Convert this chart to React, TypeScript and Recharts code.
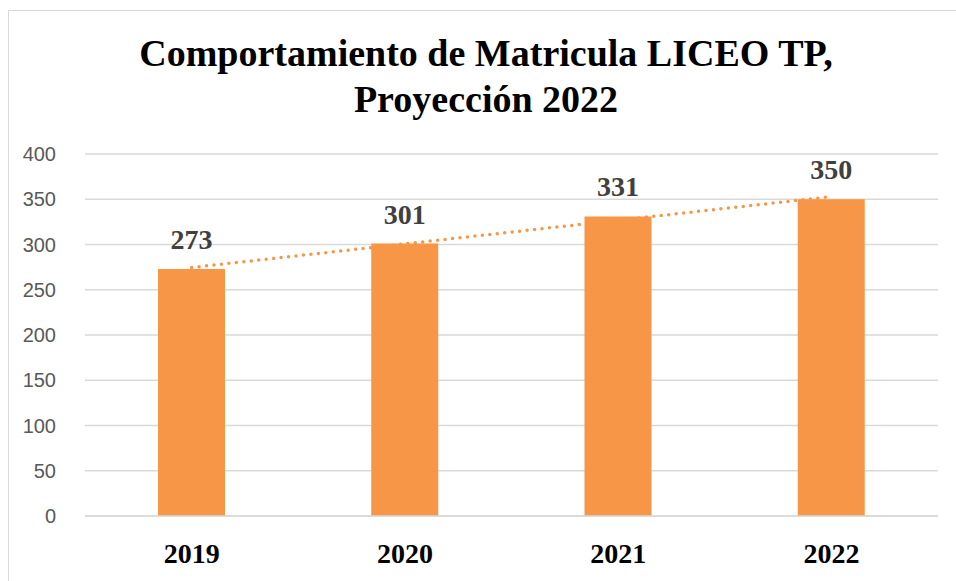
import React from "react";
import {
  ComposedChart,
  Bar,
  Line,
  XAxis,
  YAxis,
  CartesianGrid,
  LabelList,
} from "recharts";

const years = ["2019", "2020", "2021", "2022"];
const matricula = [273, 301, 331, 350];
// dotted linear trend
const tendencia = [274.6, 300.7, 326.8, 352.9];
const yTicks = [0, 50, 100, 150, 200, 250, 300, 350, 400];

const ORANGE = "#F79646";
const SERIF = "'Liberation Serif', 'Times New Roman', serif";

const data = years.map((year, i) => ({
  year,
  value: matricula[i],
  trend: tendencia[i],
}));

export default function App() {
  return (
    <div
      style={{
        position: "absolute",
        left: 0,
        top: 0,
        width: 956,
        height: 581,
        background: "#fff",
        overflow: "hidden",
      }}
    >
      <div
        style={{
          position: "absolute",
          left: 8,
          top: 10,
          width: 980,
          height: 600,
          border: "1px solid #d9d9d9",
        }}
      />
      <div
        style={{
          position: "absolute",
          left: 0,
          top: 30,
          width: 972,
          textAlign: "center",
          fontFamily: SERIF,
          fontWeight: "bold",
          fontSize: 38,
          lineHeight: "46px",
          color: "#000",
        }}
      >
        Comportamiento de Matricula LICEO TP,
        <br />
        Proyección 2022
      </div>
      <ComposedChart
        width={956}
        height={581}
        data={data}
        margin={{ top: 154, right: 18, bottom: 0, left: 0 }}
        style={{ position: "absolute", left: 0, top: 0 }}
      >
        <CartesianGrid vertical={false} stroke="#d9d9d9" strokeWidth={1.5} />
        <XAxis
          dataKey="year"
          height={65}
          axisLine={{ stroke: "#d9d9d9", strokeWidth: 1.5 }}
          tickLine={false}
          tickMargin={21}
          tick={{
            fill: "#000",
            fontFamily: SERIF,
            fontWeight: "bold",
            fontSize: 28,
          }}
        />
        <YAxis
          width={85}
          domain={[0, 400]}
          ticks={yTicks}
          axisLine={false}
          tickLine={false}
          tickMargin={23}
          tick={{
            fill: "#595959",
            fontFamily: "'Liberation Sans', Arial, sans-serif",
            fontSize: 20,
          }}
        />
        <Bar dataKey="value" fill={ORANGE} barSize={67} isAnimationActive={false}>
          <LabelList
            dataKey="value"
            position="top"
            offset={20}
            style={{
              fill: "#404040",
              fontFamily: SERIF,
              fontWeight: "bold",
              fontSize: 28,
            }}
          />
        </Bar>
        <Line
          dataKey="trend"
          type="linear"
          stroke={ORANGE}
          strokeWidth={3.5}
          strokeDasharray="0 7.5"
          strokeLinecap="round"
          dot={false}
          activeDot={false}
          isAnimationActive={false}
        />
      </ComposedChart>
    </div>
  );
}
